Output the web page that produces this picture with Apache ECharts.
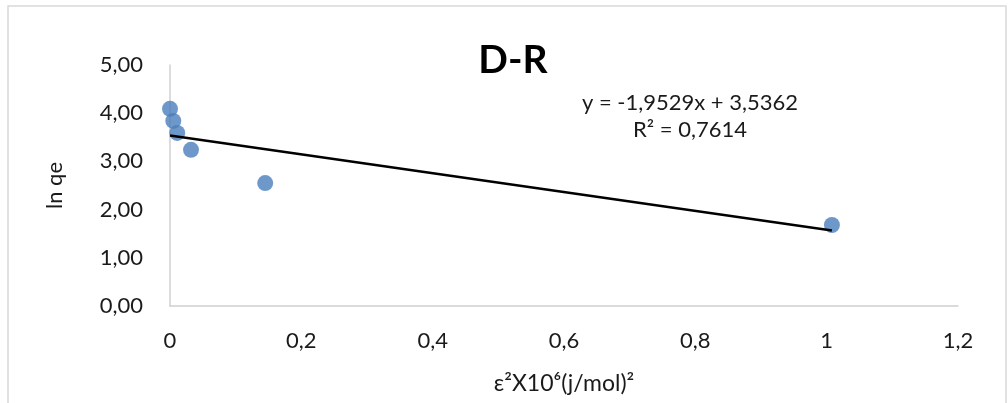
<!DOCTYPE html>
<html>
<head>
<meta charset="utf-8">
<script src="https://cdn.jsdelivr.net/npm/echarts@6/dist/echarts.min.js"></script>
<style>
    html, body { margin: 0; padding: 0; background: #fff; }
    #chart { width: 1008px; height: 403px; }
</style>
</head>
<body>
<div id="chart"></div>
<script>
// points
var xValues = [0.000, 0.005, 0.011, 0.032, 0.145, 1.008];
var yValues = [4.09, 3.84, 3.59, 3.24, 2.55, 1.68];
// linear trend shown on the chart
var trendSlope = -1.9529;
var trendIntercept = 3.5362;
var equationLines = ['y = -1,9529x + 3,5362', 'R² = 0,7614'];

var fontName = 'Lato';
var textColor = '#1a1a1a';

var points = xValues.map(function (x, i) { return [x, yValues[i]]; });
var xMin = Math.min.apply(null, xValues);
var xMax = Math.max.apply(null, xValues);
var trendData = [xMin, xMax].map(function (x) { return [x, trendSlope * x + trendIntercept]; });

var myChart = echarts.init(document.getElementById('chart'));
var option = {
    backgroundColor: '#fff',
    animation: false,
    title: {
        text: 'D-R',
        left: 508,
        top: 36,
        textAlign: 'center',
        textStyle: { fontFamily: fontName, fontSize: 39, fontWeight: 'bold', color: '#000' }
    },
    grid: { left: 170, right: 50, top: 65, bottom: 97 },
    xAxis: {
        type: 'value',
        min: 0,
        max: 1.2,
        interval: 0.2,
        name: 'ε²X10⁶(j/mol)²',
        nameLocation: 'middle',
        nameGap: 66,
        nameTextStyle: { fontFamily: fontName, fontSize: 23, color: textColor },
        axisLine: { lineStyle: { color: '#d0d0d0', width: 1.5 } },
        axisTick: { show: false },
        splitLine: { show: false },
        axisLabel: {
            margin: 24,
            fontFamily: fontName,
            fontSize: 22,
            color: textColor,
            formatter: function (v) { return String(+v.toFixed(1)).replace('.', ','); }
        }
    },
    yAxis: {
        type: 'value',
        min: 0,
        max: 5,
        interval: 1,
        name: 'ln qe',
        nameLocation: 'middle',
        nameGap: 104,
        nameRotate: 90,
        nameTextStyle: { fontFamily: fontName, fontSize: 22, color: textColor },
        axisLine: { show: true, lineStyle: { color: '#d0d0d0', width: 1.5 } },
        axisTick: { show: false },
        splitLine: { show: false },
        axisLabel: {
            margin: 27,
            fontFamily: fontName,
            fontSize: 22,
            color: textColor,
            formatter: function (v) { return v.toFixed(2).replace('.', ','); }
        }
    },
    graphic: [
        {
            type: 'rect',
            shape: { x: 8, y: 6, width: 998, height: 420 },
            style: { fill: 'none', stroke: '#d9d9d9', lineWidth: 1.5 },
            silent: true
        },
        {
            type: 'text',
            x: 690,
            y: 89,
            style: {
                text: equationLines.join('\n'),
                font: '22px ' + fontName,
                fill: textColor,
                align: 'center',
                lineHeight: 27
            }
        }
    ],
    series: [
        {
            type: 'scatter',
            data: points,
            symbolSize: 16,
            itemStyle: { color: '#4a7ebb' },
            z: 2
        },
        {
            type: 'line',
            data: trendData,
            showSymbol: false,
            lineStyle: { color: '#000', width: 2.5 },
            z: 3
        }
    ]
};
myChart.setOption(option);
</script>
</body>
</html>
